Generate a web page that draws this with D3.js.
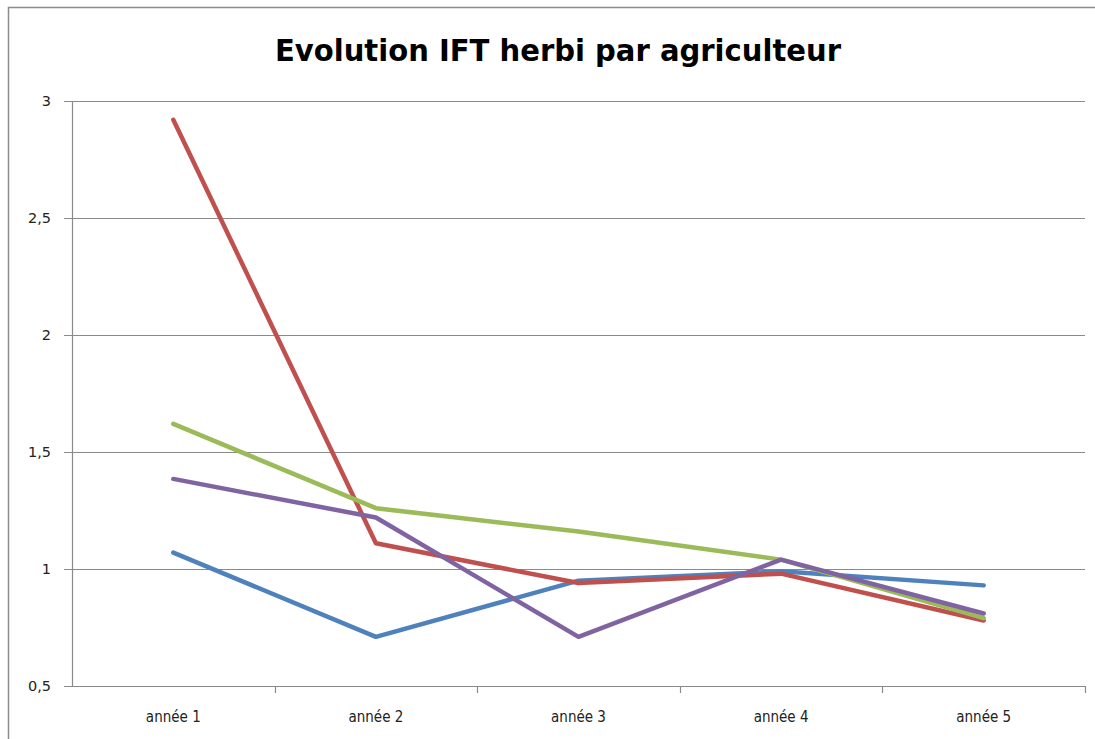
<!DOCTYPE html>
<html>
<head>
<meta charset="utf-8">
<script src="https://cdn.jsdelivr.net/npm/d3@7"></script>
<style>
	body { margin: 0; background: #fff; }
	svg { display: block; }
</style>
</head>
<body>
<script>
var categories = [ 'année 1', 'année 2', 'année 3', 'année 4', 'année 5' ];
var yTicks = [ 0.5, 1, 1.5, 2, 2.5, 3 ];

var blueValues = [ 1.07, 0.71, 0.95, 0.99, 0.93 ];
var redValues = [ 2.92, 1.11, 0.94, 0.98, 0.78 ];
var greenValues = [ 1.62, 1.26, 1.16, 1.04, 0.79 ];
var purpleValues = [ 1.385, 1.22, 0.71, 1.04, 0.81 ];

var seriesColors = [ '#4F81BD', '#C0504D', '#9BBB59', '#8064A2' ];
var series = [ blueValues, redValues, greenValues, purpleValues ];

var width = 1095, height = 739;
var plotLeft = 72, plotRight = 1085, plotTop = 101, plotBottom = 686;

var svg = d3.select( 'body' ).append( 'svg' )
	.attr( 'width', width )
	.attr( 'height', height );

// chart border
svg.append( 'rect' )
	.attr( 'x', 8.5 ).attr( 'y', 7.5 )
	.attr( 'width', 1200 ).attr( 'height', 800 )
	.style( 'fill', 'none' ).style( 'stroke', '#8c8c8c' ).style( 'stroke-width', 1.5 );

svg.append( 'text' )
	.attr( 'x', 558 ).attr( 'y', 61 )
	.attr( 'text-anchor', 'middle' )
	.attr( 'textLength', 566 )
	.attr( 'lengthAdjust', 'spacingAndGlyphs' )
	.style( 'font-family', '"DejaVu Sans Condensed", "Liberation Sans Narrow", sans-serif' )
	.style( 'font-weight', 'bold' )
	.style( 'font-size', '31px' )
	.style( 'fill', '#000' )
	.text( 'Evolution IFT herbi par agriculteur' );

var x = d3.scaleBand()
	.domain( categories )
	.range( [ plotLeft, plotRight ] );

var y = d3.scaleLinear()
	.domain( [ 0.5, 3 ] )
	.range( [ plotBottom, plotTop ] );

// gridlines
svg.append( 'g' ).selectAll( 'line' )
	.data( yTicks )
	.enter()
	.append( 'line' )
	.attr( 'x1', plotLeft - 8 ).attr( 'x2', plotRight )
	.attr( 'y1', function ( d ) { return Math.round( y( d ) ) + 0.5; } )
	.attr( 'y2', function ( d ) { return Math.round( y( d ) ) + 0.5; } )
	.style( 'stroke', '#8a8a8a' ).style( 'stroke-width', 1.2 );

// y axis line
svg.append( 'line' )
	.attr( 'x1', plotLeft + 0.5 ).attr( 'x2', plotLeft + 0.5 )
	.attr( 'y1', plotTop ).attr( 'y2', plotBottom )
	.style( 'stroke', '#8a8a8a' ).style( 'stroke-width', 1.2 );

// x axis tick marks at band boundaries
var boundaries = categories.map( function ( c ) { return x( c ) + x.bandwidth(); } );
svg.append( 'g' ).selectAll( 'line' )
	.data( boundaries )
	.enter()
	.append( 'line' )
	.attr( 'x1', function ( d ) { return Math.round( d ) + 0.5; } )
	.attr( 'x2', function ( d ) { return Math.round( d ) + 0.5; } )
	.attr( 'y1', plotBottom ).attr( 'y2', plotBottom + 7 )
	.style( 'stroke', '#8a8a8a' ).style( 'stroke-width', 1.2 );

var fmt = function ( d ) { return String( d ).replace( '.', ',' ); };

svg.append( 'g' ).selectAll( 'text' )
	.data( yTicks )
	.enter()
	.append( 'text' )
	.attr( 'x', 51 )
	.attr( 'y', function ( d ) { return y( d ) + 5; } )
	.attr( 'text-anchor', 'end' )
	.style( 'font-family', '"DejaVu Sans", sans-serif' )
	.style( 'font-size', '14.5px' )
	.style( 'fill', '#222' )
	.text( fmt );

svg.append( 'g' ).selectAll( 'text' )
	.data( categories )
	.enter()
	.append( 'text' )
	.attr( 'x', function ( d ) { return x( d ) + x.bandwidth() / 2; } )
	.attr( 'y', 722 )
	.attr( 'text-anchor', 'middle' )
	.style( 'font-family', '"Liberation Sans Narrow", "DejaVu Sans Condensed", sans-serif' )
	.style( 'font-size', '15px' )
	.style( 'fill', '#222' )
	.text( function ( d ) { return d; } );

var line = d3.line()
	.x( function ( d, i ) { return x( categories[i] ) + x.bandwidth() / 2; } )
	.y( function ( d ) { return y( d ); } );

svg.append( 'g' ).selectAll( 'path' )
	.data( series )
	.enter()
	.append( 'path' )
	.attr( 'd', line )
	.style( 'fill', 'none' )
	.style( 'stroke', function ( d, i ) { return seriesColors[i]; } )
	.style( 'stroke-width', 4.5 )
	.style( 'stroke-linejoin', 'round' )
	.style( 'stroke-linecap', 'round' );
</script>
</body>
</html>
